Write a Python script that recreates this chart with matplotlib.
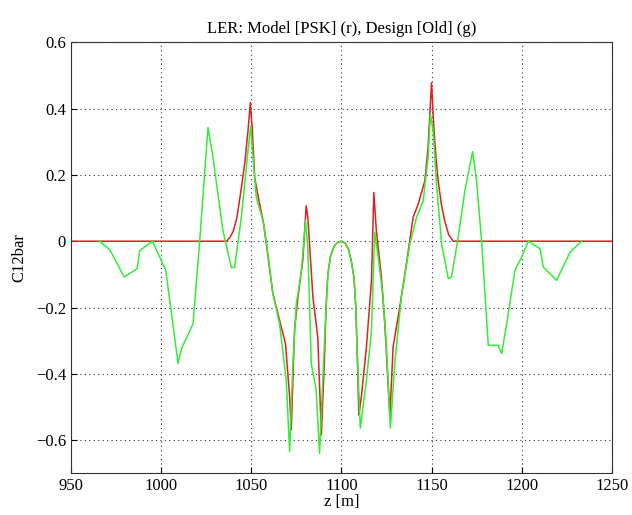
import matplotlib
matplotlib.use("Agg")
import matplotlib.pyplot as plt

# Model [PSK] (red)
z_model = [950, 1036.2, 1038, 1040, 1042, 1044.5, 1046.5, 1048.2, 1049.5, 1050.6,
           1051.9, 1054.3, 1056.9, 1062, 1069, 1071.3, 1072.2, 1074, 1075.9, 1078.6,
           1080.5, 1081.4, 1084.2, 1086.9, 1088.9, 1090.6, 1091.5, 1092.5, 1094, 1096,
           1098, 1100, 1102, 1104, 1105.5, 1107, 1108, 1108.7, 1109.7, 1111.1,
           1113.9, 1116.7, 1118, 1119.4, 1122.2, 1124.1, 1126.9, 1128.7, 1132.4, 1136.1,
           1139.8, 1142.6, 1146.3, 1148.1, 1150, 1151.3, 1152.5, 1153.7, 1155.5, 1157.4,
           1159.5, 1162, 1250]
c_model = [0, 0, 0.01, 0.03, 0.07, 0.16, 0.24, 0.333, 0.418, 0.333,
           0.192, 0.122, 0.052, -0.158, -0.309, -0.469, -0.57, -0.269, -0.168, -0.058,
           0.107, 0.072, -0.168, -0.289, -0.584, -0.359, -0.2, -0.1, -0.045, -0.015,
           -0.003, 0, -0.005, -0.025, -0.06, -0.11, -0.2, -0.32, -0.524, -0.469,
           -0.319, -0.118, 0.147, 0.032, -0.108, -0.249, -0.529, -0.319, -0.198, -0.068,
           0.072, 0.112, 0.182, 0.283, 0.478, 0.343, 0.25, 0.182, 0.11, 0.06,
           0.02, 0, 0]

# Design [Old] (green)
z_design = [965.7, 971.6, 979.5, 986.7, 988.2, 995.2, 1002.6, 1009.4, 1011.3, 1017.7,
            1021.4, 1026, 1028.8, 1034.3, 1039, 1040.8, 1044.5, 1048.2, 1049.7, 1050.6,
            1052.8, 1056.5, 1058.3, 1062, 1065.7, 1069.4, 1071.3, 1073.1, 1075, 1077.7,
            1080.1, 1081.4, 1083.3, 1086, 1087.9, 1089.7, 1091.5, 1092.5, 1094, 1096,
            1098, 1100, 1102, 1104, 1105.5, 1107, 1108, 1108.7, 1110.5, 1113.9,
            1116.7, 1118.5, 1120.4, 1123.1, 1125, 1127.2, 1129.6, 1133.3, 1138, 1141.7,
            1145.4, 1148.1, 1149.4, 1150.9, 1152.8, 1155.6, 1159.3, 1161.1, 1164.8, 1168.5,
            1172.8, 1175, 1177.8, 1181.5, 1187, 1188.9, 1191.7, 1196.3, 1200, 1203.7,
            1210.2, 1212, 1219.4, 1226.9, 1233.3]
c_design = [0, -0.026, -0.108, -0.083, -0.028, 0, -0.088, -0.369, -0.324, -0.249,
            0, 0.343, 0.252, 0.032, -0.080, -0.078, 0.072, 0.273, 0.348, 0.28,
            0.132, 0.062, 0, -0.158, -0.249, -0.419, -0.634, -0.369, -0.188, -0.098,
            0.062, -0.018, -0.369, -0.449, -0.64, -0.419, -0.2, -0.1, -0.045, -0.015,
            -0.003, 0, -0.005, -0.025, -0.06, -0.11, -0.2, -0.32, -0.564, -0.419,
            -0.269, 0.027, -0.048, -0.168, -0.319, -0.564, -0.369, -0.168, -0.008, 0.072,
            0.122, 0.252, 0.383, 0.333, 0.172, -0.008, -0.113, -0.108, 0.012, 0.152,
            0.27, 0.182, 0, -0.314, -0.314, -0.339, -0.249, -0.088, -0.048, 0,
            -0.023, -0.078, -0.118, -0.033, 0]

x_ticks = [950, 1000, 1050, 1100, 1150, 1200, 1250]
y_ticks = [-0.6, -0.4, -0.2, 0, 0.2, 0.4, 0.6]

plt.rcParams['font.family'] = ['Liberation Serif', 'DejaVu Serif']
plt.rcParams['axes.unicode_minus'] = True

fig = plt.figure(figsize=(6.32, 5.15), dpi=100)
ax = fig.add_axes([0.1123, 0.081, 0.8557, 0.8369])

ax.plot(z_design, c_design, color='#33ee33', lw=1.1, zorder=3)
ax.plot(z_model, c_model, color='#e02020', lw=1.1, zorder=2)

ax.set_xlim(950, 1250)
ax.set_ylim(-0.7, 0.6)
ax.set_xticks(x_ticks)
ax.set_yticks(y_ticks)
ax.set_yticklabels(['\u22120.6', '\u22120.4', '\u22120.2', '0', '0.2', '0.4', '0.6'])
ax.tick_params(direction='in', labelsize=12, length=4, top=False, right=False)
ax.grid(True, color='black', linestyle=(0, (1, 3)), linewidth=0.8, alpha=0.8)
for s in ax.spines.values():
    s.set_linewidth(0.8)
    s.set_color('#333333')

ax.set_title('LER: Model [PSK] (r), Design [Old] (g)', fontsize=12, pad=7)
ax.set_xlabel('z [m]', fontsize=12, labelpad=0)
ax.set_ylabel('C12bar', fontsize=12, labelpad=6)

fig.savefig('out.png', dpi=100)
